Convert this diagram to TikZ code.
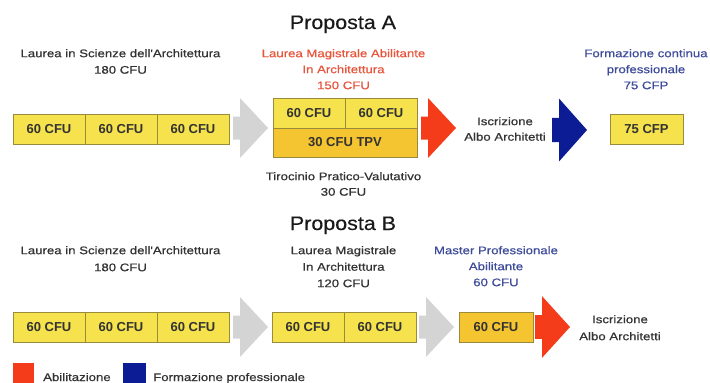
\documentclass[tikz,border=0pt]{standalone}
\usepackage{fontspec}
\setmainfont{Liberation Sans}
\newfontfamily\txtfamily[FakeStretch=1.2,FakeBold=0.6]{Liberation Sans}
\newfontfamily\ttlfamily[FakeStretch=1.1,FakeBold=0.3]{Liberation Sans}
\newcommand\lblfnt{\txtfamily\fontsize{11}{16.5}\selectfont}
\newcommand\boxfnt{\fontsize{13}{15}\selectfont\bfseries}
\newcommand\ttlfnt{\ttlfamily\fontsize{19.5}{22}\selectfont}
\definecolor{yel}{HTML}{F6E24C}
\definecolor{gold}{HTML}{F5C431}
\definecolor{bord}{HTML}{9A8B3A}
\definecolor{grayA}{HTML}{D4D4D4}
\definecolor{redA}{HTML}{F43C1B}
\definecolor{blueA}{HTML}{0C1C94}
\definecolor{redT}{HTML}{E8553D}
\definecolor{blueT}{HTML}{3E4C9A}
\definecolor{txt}{HTML}{333333}
\begin{document}
\begin{tikzpicture}[x=1pt,y=-1pt,
  cell/.style={draw=bord, line width=0.8pt, fill=yel, minimum height=30pt, minimum width=72pt, inner sep=0pt, font=\boxfnt, text=txt},
  goldcell/.style={cell, fill=gold},
  lbl/.style={anchor=north, inner sep=0pt, align=center, font=\lblfnt, text=txt},
  ttl/.style={anchor=base, inner sep=0pt, font=\ttlfnt, text=black!90},
  legsq/.style={minimum width=21pt, minimum height=20pt, inner sep=0pt},
  barrow/.pic={\fill[pic actions] (0,-11.5) -- (7,-11.5) -- (7,-30) -- (35,0) -- (7,30) -- (7,11.5) -- (0,11.5) -- cycle;}
]
\useasboundingbox[fill=white] (0,0) rectangle (710,383);

% ---------- Proposta A ----------
\node[ttl] (titleA) at (343,29) {Proposta A};
\node[lbl] (lsA) at (120.5,49) {Laurea in Scienze dell'Architettura\\180 CFU};
\node[lbl, text=redT, font={\txtfamily\fontsize{11}{16}\selectfont}] (lmA) at (343.5,49) {Laurea Magistrale Abilitante\\In Architettura\\150 CFU};
\node[lbl, text=blueT, font={\txtfamily\fontsize{11}{16}\selectfont}] (fcp) at (646,49) {Formazione continua\\professionale\\75 CFP};
\node[lbl, font={\txtfamily\fontsize{11}{15.5}\selectfont}] (tir) at (343.5,172) {Tirocinio Pratico-Valutativo\\30 CFU};
\node[lbl, font={\txtfamily\fontsize{11}{15.5}\selectfont}] (iscrA) at (505,117) {Iscrizione\\Albo Architetti};

\node[cell] (a1) at (49,129) {60 CFU};
\node[cell] (a2) at (121,129) {60 CFU};
\node[cell] (a3) at (193,129) {60 CFU};
\node[cell] (m1) at (309,113) {60 CFU};
\node[cell] (m2) at (381,113) {60 CFU};
\node[goldcell, minimum width=144pt, minimum height=29pt] (tpv) at (345,142.5) {30 CFU TPV};
\node[cell, minimum width=73pt] (cfp) at (646.5,129) {75 CFP};

\pic[fill=grayA] at (233,128) {barrow};
\pic[fill=redA] at (421,128) {barrow};
\pic[fill=blueA, yscale=1.05] at (552,130) {barrow};

% ---------- Proposta B ----------
\node[ttl] (titleB) at (343,230) {Proposta B};
\node[lbl, font={\txtfamily\fontsize{11}{17}\selectfont}] (lsB) at (120.5,246) {Laurea in Scienze dell'Architettura\\180 CFU};
\node[lbl] (lmB) at (343.5,246) {Laurea Magistrale\\In Architettura\\120 CFU};
\node[lbl, text=blueT, font={\txtfamily\fontsize{11}{16}\selectfont}] (mpa) at (496,246) {Master Professionale\\Abilitante\\60 CFU};
\node[lbl, font={\txtfamily\fontsize{11}{17}\selectfont}] (iscrB) at (620,315) {Iscrizione\\Albo Architetti};

\node[cell] (b1) at (49,327) {60 CFU};
\node[cell] (b2) at (121,327) {60 CFU};
\node[cell] (b3) at (193,327) {60 CFU};
\node[cell] (n1) at (308,327) {60 CFU};
\node[cell] (n2) at (380,327) {60 CFU};
\node[goldcell, minimum width=74pt] (mp) at (496,327) {60 CFU};

\pic[fill=grayA] at (233,327) {barrow};
\pic[fill=grayA] at (419,327) {barrow};
\pic[fill=redA, yscale=1.03] at (535,327) {barrow};

% ---------- Legend ----------
\node[legsq, fill=redA] (legR) at (23.5,373) {};
\node[anchor=base west, inner sep=0pt, font=\lblfnt, text=txt] (legRt) at (43,381) {Abilitazione};
\node[legsq, fill=blueA, minimum width=23pt] (legB) at (134.5,373) {};
\node[anchor=base west, inner sep=0pt, font=\lblfnt, text=txt] (legBt) at (153,381) {Formazione professionale};
\end{tikzpicture}
\end{document}
